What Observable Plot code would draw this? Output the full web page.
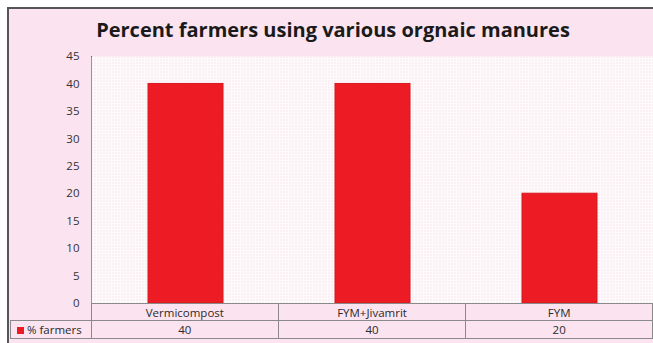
<!DOCTYPE html>
<html>
<head>
<meta charset="utf-8">
<script src="https://cdn.jsdelivr.net/npm/d3@7"></script>
<script src="https://cdn.jsdelivr.net/npm/@observablehq/plot@0.6"></script>
<style>
  html, body { margin: 0; padding: 0; background: #fff; width: 653px; height: 343px; overflow: hidden; }
  #frame { position: absolute; left: 7px; top: 7px; width: 646px; height: 336px; box-sizing: border-box;
           border-top: 2px solid #555; border-left: 2px solid #555; background: #fbe4ef; }
  #title { position: absolute; left: 9px; top: 15px; width: 648px; text-align: center;
           font-family: "Open Sans", sans-serif; font-weight: bold; font-size: 20px; color: #1a1a1a; line-height: 30px; }
  #chart { position: absolute; left: 9px; top: 49px; }
  #table { position: absolute; left: 10px; top: 303px; border-collapse: collapse; table-layout: fixed;
           font-family: "Open Sans", sans-serif; font-size: 11.5px; color: #2a2a2a; }
  #table td { border: 1px solid #8a8a8a; padding: 0; text-align: center; line-height: 15px; }
  #table td.blank { border-top: none; border-left: none; }
  #table td.legend { text-align: left; padding-left: 6px; white-space: nowrap; }
  .swatch { display: inline-block; width: 7px; height: 7px; background: #ed1c24; margin-right: 3px; vertical-align: 0px; }
</style>
</head>
<body>
<svg width="0" height="0" style="position:absolute">
  <defs>
    <pattern id="dots" width="3" height="3" patternUnits="userSpaceOnUse">
      <rect width="3" height="3" fill="#fefafc"></rect>
      <rect x="1" y="1" width="1" height="1" fill="#efd6e1"></rect>
    </pattern>
  </defs>
</svg>
<div id="frame"></div>
<div id="title">Percent farmers using various orgnaic manures</div>
<div id="chart"></div>
<table id="table"></table>
<script>
const categories = ["Vermicompost", "FYM+Jivamrit", "FYM"];
const values = [40, 40, 20];
const seriesName = "% farmers";
const yTicks = [0, 5, 10, 15, 20, 25, 30, 35, 40, 45];

const data = categories.map((c, i) => ({category: c, value: values[i]}));

const chart = Plot.plot({
  width: 644,
  height: 254,
  marginTop: 7,
  marginBottom: 0,
  marginLeft: 82,
  marginRight: 0,
  style: {background: "transparent", overflow: "visible", fontFamily: "'Open Sans', sans-serif", fontSize: "11.5px", color: "#333"},
  x: {domain: categories, paddingInner: 0.6, paddingOuter: 0.3, axis: null},
  y: {domain: [0, 45], ticks: yTicks, tickSize: 0, tickPadding: 12, label: null, line: true},
  marks: [
    Plot.frame({fill: "url(#dots)", stroke: null}),
    Plot.barY(data, {x: "category", y: "value", fill: "#ed1c24", stroke: "#d9161e", strokeWidth: 1})
  ]
});
chart.querySelectorAll("g[aria-label='y-axis'] path, g[aria-label='y-axis-line'] path").forEach(p => p.setAttribute("stroke", "#8a8a8a"));
document.getElementById("chart").appendChild(chart);

// data table legend below the plot
const table = document.getElementById("table");
const colg = document.createElement("colgroup");
[81, 187, 188, 187].forEach(w => { const c = document.createElement("col"); c.style.width = w + "px"; colg.appendChild(c); });
table.appendChild(colg);
const r1 = table.insertRow();
const blank = r1.insertCell(); blank.className = "blank";
r1.style.height = "17px";
categories.forEach(c => { const td = r1.insertCell(); td.textContent = c; });
const r2 = table.insertRow();
r2.style.height = "18px";
const lg = r2.insertCell(); lg.className = "legend";
lg.innerHTML = '<span class="swatch"></span>';
lg.appendChild(document.createTextNode(seriesName));
values.forEach(v => { const td = r2.insertCell(); td.textContent = v; });
</script>
</body>
</html>
